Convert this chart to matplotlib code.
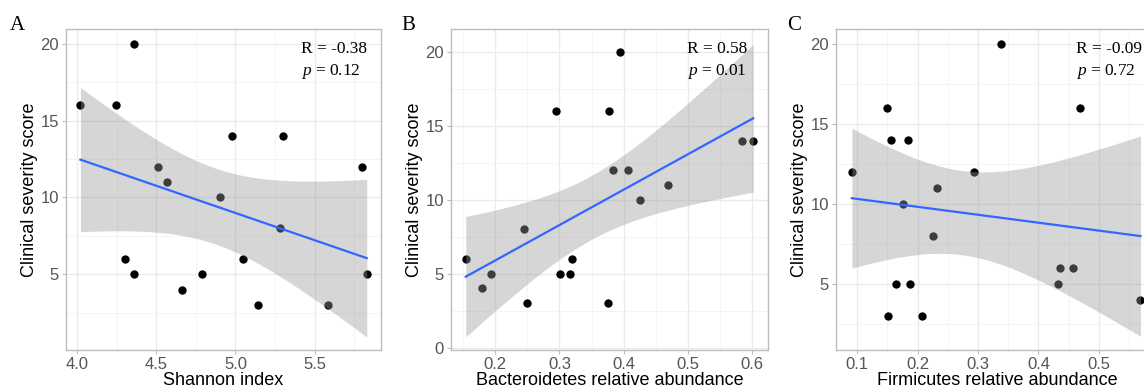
import numpy as np
import matplotlib
matplotlib.use("Agg")
import matplotlib.pyplot as plt
from matplotlib.ticker import MultipleLocator

plt.rcParams['font.family'] = ['Liberation Sans', 'DejaVu Sans']
plt.rcParams['mathtext.fontset'] = 'custom'
plt.rcParams['mathtext.rm'] = 'Liberation Serif'
plt.rcParams['mathtext.it'] = 'Liberation Serif:italic'

# scor clinic (comun pentru toate panourile, ordinea difera)
shannon_x = [4.02, 4.245, 4.36, 4.51, 4.57, 4.90, 4.30, 4.36, 4.66, 4.79,
             4.98, 5.30, 5.80, 5.28, 5.05, 5.83, 5.14, 5.585]
shannon_y = [16, 16, 20, 12, 11, 10, 6, 5, 4, 5, 14, 14, 12, 8, 6, 5, 3, 3]

bact_x = [0.154, 0.179, 0.194, 0.244, 0.249, 0.295, 0.301, 0.316, 0.319,
          0.395, 0.377, 0.383, 0.407, 0.4255, 0.469, 0.584, 0.602, 0.375]
bact_y = [6, 4, 5, 8, 3, 16, 5, 5, 6, 20, 16, 12, 12, 10, 11, 14, 14, 3]

firm_x = [0.0913, 0.150, 0.1566, 0.1836, 0.176, 0.232, 0.225, 0.294, 0.164,
          0.187, 0.151, 0.207, 0.338, 0.4685, 0.4366, 0.457, 0.433, 0.569]
firm_y = [12, 16, 14, 14, 10, 11, 8, 12, 5, 5, 3, 3, 20, 16, 6, 6, 5, 4]

etichete = ['A', 'B', 'C']
x_titluri = ['Shannon index', 'Bacteroidetes relative abundance',
             'Firmicutes relative abundance']
r_text = ['R = -0.38', 'R = 0.58', 'R = -0.09']
p_text = ['0.12', '0.01', '0.72']

W, H = 1144, 390
fig = plt.figure(figsize=(W / 100, H / 100), dpi=100)


def axe_px(st, dr, sus, jos):
    return fig.add_axes([st / W, 1 - jos / H, (dr - st) / W, (jos - sus) / H])


def regresie(ax, x, y):
    x = np.array(x, float)
    y = np.array(y, float)
    n = len(x)
    b, a = np.polyfit(x, y, 1)
    xs = np.linspace(x.min(), x.max(), 80)
    yh = a + b * xs
    rez = y - (a + b * x)
    s = np.sqrt(np.sum(rez ** 2) / (n - 2))
    sxx = np.sum((x - x.mean()) ** 2)
    se = s * np.sqrt(1 / n + (xs - x.mean()) ** 2 / sxx)
    t = 2.119905  # t(0.975, 16)
    ax.fill_between(xs, yh - t * se, yh + t * se, color='#999999', alpha=0.4,
                    linewidth=0, zorder=3)
    ax.plot(xs, yh, color='#3366FF', linewidth=1.6, zorder=4)


pozitii = [(66, 381), (451, 768), (836, 1158)]
date = [(shannon_x, shannon_y), (bact_x, bact_y), (firm_x, firm_y)]
xlims = [(3.929, 5.92), (0.131, 0.625), (0.065, 0.598)]
ylims = [(0.08, 20.95), (-0.16, 21.55), (0.86, 20.92)]
xmaj = [0.5, 0.1, 0.1]

for i in range(3):
    ax = axe_px(pozitii[i][0], pozitii[i][1], 29, 350)
    x, y = date[i]
    ax.scatter(x, y, s=36, color='black', linewidths=0, zorder=2)
    regresie(ax, x, y)
    ax.set_xlim(*xlims[i])
    ax.set_ylim(*ylims[i])
    ax.xaxis.set_major_locator(MultipleLocator(xmaj[i]))
    ax.xaxis.set_minor_locator(MultipleLocator(xmaj[i] / 2))
    ax.yaxis.set_major_locator(MultipleLocator(5))
    ax.yaxis.set_minor_locator(MultipleLocator(2.5))
    ax.grid(which='major', color='#EBEBEB', linewidth=1.0, zorder=0)
    ax.grid(which='minor', color='#F3F3F3', linewidth=0.6, zorder=0)
    ax.set_axisbelow(True)
    for sp in ax.spines.values():
        sp.set_color('#BDBDBD')
        sp.set_linewidth(1.0)
    ax.tick_params(which='major', length=3, color='#BDBDBD', labelsize=12,
                   labelcolor='#555555', pad=2)
    ax.tick_params(which='minor', length=0)
    if i == 0:
        ax.set_xticks([4.0, 4.5, 5.0, 5.5])
        ax.set_xticklabels(['4.0', '4.5', '5.0', '5.5'])
    ax.set_xlabel(x_titluri[i], fontsize=13, labelpad=0)
    ax.set_ylabel('Clinical severity score', fontsize=13, labelpad=2)
    ax.text(0.745, 0.938, r_text[i], transform=ax.transAxes, fontsize=12.5,
            family='Liberation Serif', va='center', ha='left', zorder=5)
    ax.text(0.745, 0.869, '$p$ = ' + p_text[i], transform=ax.transAxes,
            fontsize=12.5, family='Liberation Serif', va='center', ha='left',
            zorder=5)

etx = [10, 401, 787]
for i in range(3):
    fig.text(etx[i] / W, 1 - 26 / H, etichete[i], fontsize=15,
             family='Liberation Serif', va='center', ha='left')

fig.savefig('out.png', dpi=100)
